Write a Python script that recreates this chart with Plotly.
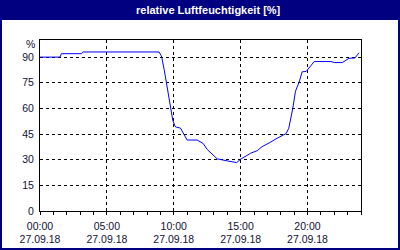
import plotly.graph_objects as go

hours = [0, 1.5, 1.6, 3.1, 3.2, 8.9, 9.05, 9.1, 9.3, 9.45, 9.6, 9.75, 9.93, 10.1, 10.2, 10.5,
         10.75, 11.0, 11.75, 12.2, 12.5, 12.9, 13.25, 14.0, 14.6, 14.7, 15.0, 15.4, 15.75,
         16.25, 16.6, 17.25, 17.6, 18.4, 18.6, 18.9, 19.1, 19.4, 19.6, 19.9, 20.2, 20.5,
         21.75, 22.0, 22.6, 23.1, 23.55, 23.8, 23.85]
humidity = [90, 90, 92, 92, 93, 93, 91, 90, 82, 75, 67, 60, 53, 49.5, 49, 48.5,
            45, 41.5, 41.5, 39.5, 36, 33, 30.5, 29.3, 28.7, 28.3, 30.3, 32, 33.8,
            35.3, 37.6, 40.3, 42, 45.3, 48.4, 60, 70, 76, 81.4, 81.6, 84.5, 87.4,
            87.4, 86.8, 86.8, 89.3, 89.5, 92.3, 92.5]

x_tickvals = [0, 5, 10, 15, 20]
x_ticktext = ["00:00<br>27.09.18", "05:00<br>27.09.18", "10:00<br>27.09.18",
              "15:00<br>27.09.18", "20:00<br>27.09.18"]
y_tickvals = [0, 15, 30, 45, 60, 75, 90]
title = "relative Luftfeuchtigkeit [%]"
unit = "%"

W, H = 400, 250
L, R, T, B = 40, 39, 40, 39
pw, ph = W - L - R, H - T - B

def px_x(p):
    return (p - L) / pw

def px_y(p):
    return 1 - (p - T) / ph

navy = "#000080"
font = "Liberation Sans"

fig = go.Figure()
fig.add_trace(go.Scatter(x=hours, y=humidity, mode="lines",
                         line=dict(color="#0000ff", width=1), hoverinfo="skip"))

fig.update_layout(
    width=W, height=H,
    margin=dict(l=L, r=R, t=T, b=B),
    paper_bgcolor="white", plot_bgcolor="white",
    showlegend=False,
    font=dict(family=font, size=10.5, color="#111133"),
    xaxis=dict(range=[0, 24], tickvals=x_tickvals, ticktext=x_ticktext,
               showgrid=True, gridcolor="black", gridwidth=1, griddash="3px,3px",
               showline=True, linecolor="black", linewidth=1, mirror=True,
               ticks="outside", ticklen=3, tickcolor="black", ticklabelstandoff=2,
               minor=dict(dtick=1, tick0=0, ticks="outside", ticklen=3, tickcolor="black", showgrid=False),
               zeroline=False, fixedrange=True, automargin=False),
    yaxis=dict(range=[0, 100], tickvals=y_tickvals,
               showgrid=True, gridcolor="black", gridwidth=1, griddash="3px,3px",
               showline=True, linecolor="black", linewidth=1, mirror=True,
               ticks="", ticklabelstandoff=3,
               zeroline=False, fixedrange=True, automargin=False),
    shapes=[
        dict(type="rect", xref="paper", yref="paper",
             x0=px_x(0), x1=px_x(W), y0=px_y(20), y1=px_y(0),
             fillcolor=navy, line=dict(width=0), layer="above"),
        dict(type="rect", xref="paper", yref="paper",
             x0=px_x(1), x1=px_x(W - 1), y0=px_y(H - 1), y1=px_y(1),
             line=dict(color=navy, width=2), fillcolor="rgba(0,0,0,0)", layer="above"),
    ],
    annotations=[
        dict(text="<b>" + title + "</b>", xref="paper", yref="paper",
             x=px_x(209), y=px_y(10), xanchor="center", yanchor="middle",
             showarrow=False, font=dict(family=font, size=11, color="white")),
        dict(text=unit, xref="paper", yref="y", x=px_x(37), y=97.5,
             xanchor="right", yanchor="middle", showarrow=False,
             font=dict(family=font, size=10.5, color="#111133")),
    ],
)

fig.write_html("out.html", config=dict(displayModeBar=False))
